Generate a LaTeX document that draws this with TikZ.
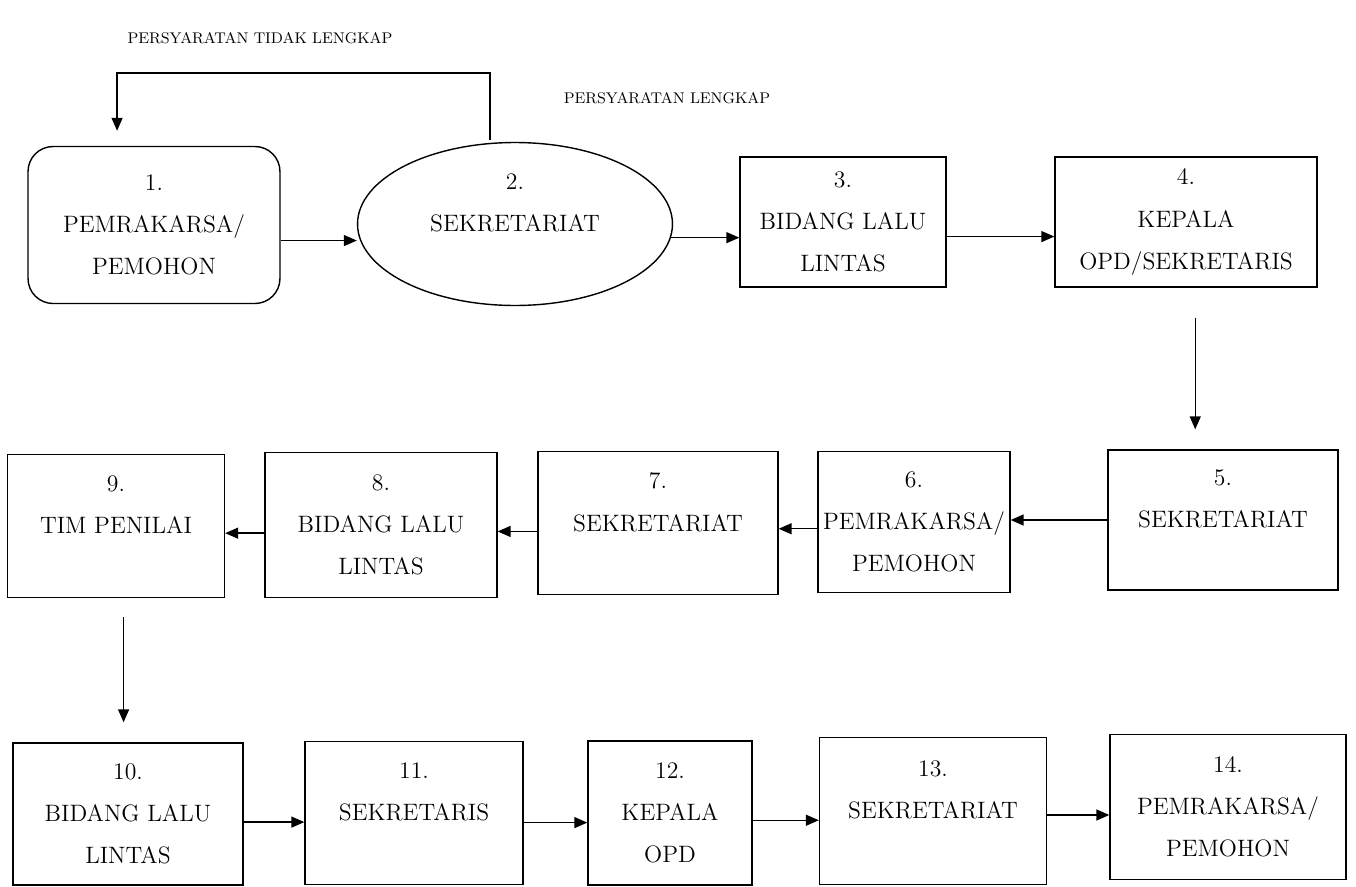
\documentclass[tikz,border=0pt]{standalone}
\usetikzlibrary{shapes.geometric,arrows.meta}
\begin{document}
\begin{tikzpicture}[x=0.02cm, y=-0.02cm,
	kotak/.style={draw, line width=0.8pt, inner sep=0pt, align=center, font=\fontsize{13.5}{24}\selectfont},
	panah/.style={line width=0.8pt, -{Triangle[length=2.6mm,width=2.2mm]}},
	ket/.style={font=\fontsize{8.8}{10}\selectfont}]
\useasboundingbox (0,0) rectangle (1356,886);

	%% Baris 1
\begin{scope}
	\node[kotak, rounded corners=0.5cm, minimum width=5.04cm, minimum height=3.14cm] (p1) at (154,225) {1.\\PEMRAKARSA/\\PEMOHON};
	\node[kotak, ellipse, minimum width=6.3cm, minimum height=3.26cm] (s2) at (515,224) {2.\\SEKRETARIAT\\\mbox{}};
	\node[kotak, minimum width=4.12cm, minimum height=2.6cm] (b3) at (843,222) {3.\\BIDANG LALU\\LINTAS};
	\node[kotak, minimum width=5.24cm, minimum height=2.6cm] (b4) at (1186,222) {4.\\KEPALA\\OPD/SEKRETARIS};

	\node[ket] (tdk) at (260,38) {PERSYARATAN TIDAK LENGKAP};
	\node[ket] (lkp) at (667,98) {PERSYARATAN LENGKAP};
	\coordinate (balik) at (300,73);

	\draw[panah, shorten <=0.05cm, shorten >=0.3cm] (s2.107) |- (balik) -| (p1.115);
	\draw[panah] (p1.-7) -- (p1.-7 -| s2.west);
	\draw[panah] (s2.-5) -- (s2.-5 -| b3.west);
	\draw[panah] (b3.-8) -- (b3.-8 -| b4.west);
\end{scope}

	%% Baris 2
\begin{scope}
	\node[kotak, minimum width=4.6cm, minimum height=2.8cm] (b5) at (1223,520) {5.\\SEKRETARIAT\\\mbox{}};
	\node[kotak, minimum width=3.84cm, minimum height=2.82cm] (b6) at (914,522) {6.\\PEMRAKARSA/\\PEMOHON};
	\node[kotak, minimum width=4.8cm, minimum height=2.86cm] (b7) at (658,523) {7.\\SEKRETARIAT\\\mbox{}};
	\node[kotak, minimum width=4.64cm, minimum height=2.9cm] (b8) at (381,525) {8.\\BIDANG LALU\\LINTAS};
	\node[kotak, minimum width=4.34cm, minimum height=2.86cm] (b9) at (116,526) {9.\\TIM PENILAI\\\mbox{}};

	\draw[panah, shorten <=0.6cm, shorten >=0.4cm] (b4.-82) -- (b4.-82 |- b5.north);
	\draw[panah] (b5.west) -- (b5.west -| b6.east);
	\draw[panah] (b6.184) -- (b6.184 -| b7.east);
	\draw[panah] (b7.184) -- (b7.184 -| b8.east);
	\draw[panah] (b8.184) -- (b8.184 -| b9.east);
\end{scope}

	%% Baris 3
\begin{scope}
	\node[kotak, minimum width=4.6cm, minimum height=2.84cm] (b10) at (128,814) {10.\\BIDANG LALU\\LINTAS};
	\node[kotak, minimum width=4.36cm, minimum height=2.86cm] (b11) at (414,813) {11.\\SEKRETARIS\\\mbox{}};
	\node[kotak, minimum width=3.28cm, minimum height=2.88cm] (b12) at (670,813) {12.\\KEPALA\\OPD};
	\node[kotak, minimum width=4.54cm, minimum height=2.94cm] (b13) at (933,811) {13.\\SEKRETARIAT\\\mbox{}};
	\node[kotak, minimum width=4.72cm, minimum height=2.9cm] (b14) at (1228,807) {14.\\PEMRAKARSA/\\PEMOHON};

	\draw[panah, shorten <=0.38cm, shorten >=0.4cm] (b9.-84) -- (b9.-84 |- b10.north);
	\draw[panah] (b10.-4) -- (b10.-4 -| b11.west);
	\draw[panah] (b11.-5) -- (b11.-5 -| b12.west);
	\draw[panah] (b12.-5) -- (b12.-5 -| b13.west);
	\draw[panah] (b13.-2) -- (b13.-2 -| b14.west);
\end{scope}

%\draw (current bounding box.south west) rectangle (current bounding box.north east);
\end{tikzpicture}
\end{document}
